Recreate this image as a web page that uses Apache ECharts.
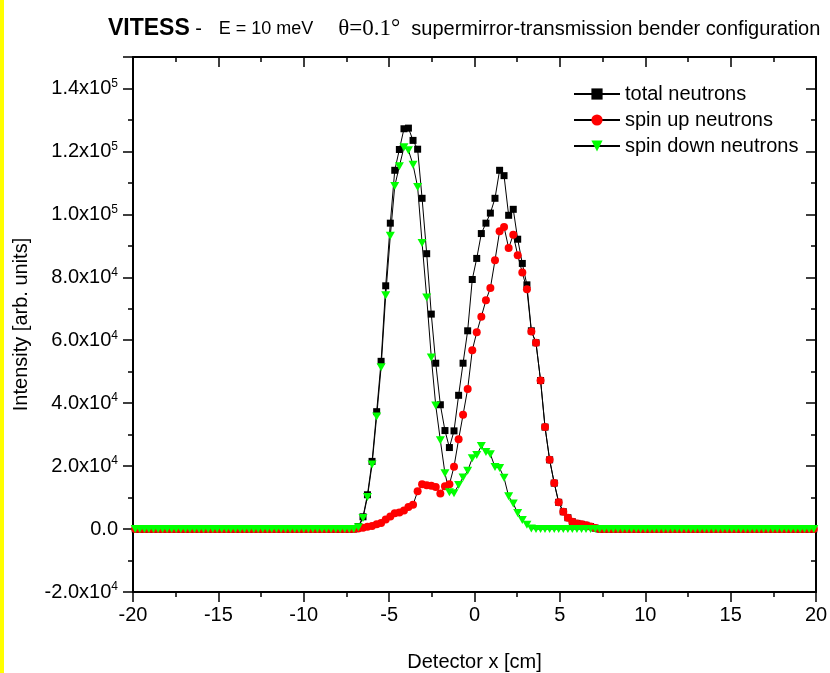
<!DOCTYPE html>
<html><head><meta charset="utf-8">
<script src="https://cdn.jsdelivr.net/npm/echarts@6/dist/echarts.min.js"></script>
<style>html,body{margin:0;padding:0;background:#fff}#c{width:830px;height:673px}</style>
</head><body><div id="c"></div><script>
// Detector positions (cm)
const detectorX = [
-19.87,-19.60,-19.33,-19.07,-18.80,-18.53,-18.27,-18.00,-17.73,-17.47,
-17.20,-16.93,-16.67,-16.40,-16.13,-15.87,-15.60,-15.33,-15.07,-14.80,
-14.53,-14.27,-14.00,-13.73,-13.47,-13.20,-12.93,-12.67,-12.40,-12.13,
-11.87,-11.60,-11.33,-11.07,-10.80,-10.53,-10.27,-10.00,-9.73,-9.47,
-9.20,-8.93,-8.67,-8.40,-8.13,-7.87,-7.60,-7.33,-7.07,-6.80,
-6.53,-6.27,-6.00,-5.73,-5.47,-5.20,-4.93,-4.67,-4.40,-4.13,
-3.87,-3.60,-3.33,-3.07,-2.80,-2.53,-2.27,-2.00,-1.73,-1.47,
-1.20,-0.93,-0.67,-0.40,-0.13,0.13,0.40,0.67,0.93,1.20,
1.47,1.73,2.00,2.27,2.53,2.80,3.07,3.33,3.60,3.87,
4.13,4.40,4.67,4.93,5.20,5.47,5.73,6.00,6.27,6.53,
6.80,7.07,7.33,7.60,7.87,8.13,8.40,8.67,8.93,9.20,
9.47,9.73,10.00,10.27,10.53,10.80,11.07,11.33,11.60,11.87,
12.13,12.40,12.67,12.93,13.20,13.47,13.73,14.00,14.27,14.53,
14.80,15.07,15.33,15.60,15.87,16.13,16.40,16.67,16.93,17.20,
17.47,17.73,18.00,18.27,18.53,18.80,19.07,19.33,19.60,19.87
];
const totalNeutrons = [
0,0,0,0,0,0,0,0,0,0,
0,0,0,0,0,0,0,0,0,0,
0,0,0,0,0,0,0,0,0,0,
0,0,0,0,0,0,0,0,0,0,
0,0,0,0,0,0,0,0,0,800,
3900,10900,21500,37300,53300,77300,97200,114000,120600,127200,
127400,123500,120700,105100,87500,68300,52700,39500,31300,25900,
31200,42500,52700,63000,79300,86000,93900,97200,100400,105100,
114000,112300,99700,101600,92100,84400,77600,63000,59200,47200,
32400,22000,14600,8500,5500,3600,2300,1800,1500,1200,
800,300,0,0,0,0,0,0,0,0,
0,0,0,0,0,0,0,0,0,0,
0,0,0,0,0,0,0,0,0,0,
0,0,0,0,0,0,0,0,0,0,
0,0,0,0,0,0,0,0,0,0
];
const spinUpNeutrons = [
0,0,0,0,0,0,0,0,0,0,
0,0,0,0,0,0,0,0,0,0,
0,0,0,0,0,0,0,0,0,0,
0,0,0,0,0,0,0,0,0,0,
0,0,0,0,0,0,0,0,0,200,
400,700,1000,1500,1900,3000,4000,5000,5300,5900,
7000,7700,12000,14200,13900,13800,13400,11300,13600,14200,
19800,28500,36300,44500,56800,62500,67500,72700,76600,85400,
94600,96000,89300,93500,87000,81500,76200,62800,59200,47200,
32400,22000,14600,8500,5500,3600,2300,1800,1500,1200,
800,300,0,0,0,0,0,0,0,0,
0,0,0,0,0,0,0,0,0,0,
0,0,0,0,0,0,0,0,0,0,
0,0,0,0,0,0,0,0,0,0,
0,0,0,0,0,0,0,0,0,0
];
const spinDownNeutrons = [
0,0,0,0,0,0,0,0,0,0,
0,0,0,0,0,0,0,0,0,0,
0,0,0,0,0,0,0,0,0,0,
0,0,0,0,0,0,0,0,0,0,
0,0,0,0,0,0,0,0,0,600,
3500,10200,20500,35800,51400,74300,93200,109000,115300,121300,
120400,115800,108700,90900,73600,54500,39300,28200,17700,11700,
11400,14000,16400,18500,22500,23500,26400,24500,23800,19700,
19400,16300,10400,8100,5100,2900,1400,200,0,0,
0,0,0,0,0,0,0,0,0,0,
0,0,0,0,0,0,0,0,0,0,
0,0,0,0,0,0,0,0,0,0,
0,0,0,0,0,0,0,0,0,0,
0,0,0,0,0,0,0,0,0,0,
0,0,0,0,0,0,0,0,0,0
];
const seriesNames = ['total neutrons', 'spin up neutrons', 'spin down neutrons'];
const xAxisName = 'Detector x [cm]';
const yAxisName = 'Intensity [arb. units]';

const FONT = '"Liberation Sans", Arial, sans-serif';
const SERIF = '"Liberation Serif", "DejaVu Serif", serif';
const pairs = (ys) => detectorX.map((x, i) => [x, ys[i]]);

function yFmt(v) {
  if (Math.abs(v) < 1e-6) return '0.0';
  if (Math.round(v) % 20000 !== 0) return '';
  const e = Math.floor(Math.log10(Math.abs(v)) + 1e-9);
  const m = v / Math.pow(10, e);
  return m.toFixed(1) + 'x10{sup|' + e + '}';
}

const chart = echarts.init(document.getElementById('c'), null, {renderer: 'canvas'});
const axisLineStyle = {color: '#000', width: 2};
const tickLine = {color: '#000', width: 1.5};

chart.setOption({
  animation: false,
  backgroundColor: '#fff',
  graphic: [{type: 'rect', left: 0, top: 0, shape: {width: 4, height: 673}, style: {fill: '#ffff00'}}],
  title: {
    left: 108, top: 14, padding: 0,
    text: '{b|VITESS}{n| -   }{e|E = 10 meV     }{s|θ=0.1°}{n|  supermirror-transmission bender configuration}',
    textStyle: {
      rich: {
        b: {fontFamily: FONT, fontWeight: 'bold', fontSize: 23, color: '#000', lineHeight: 30},
        n: {fontFamily: FONT, fontWeight: 'normal', fontSize: 20, color: '#000', lineHeight: 30},
        e: {fontFamily: FONT, fontWeight: 'normal', fontSize: 18, color: '#000', lineHeight: 30},
        s: {fontFamily: SERIF, fontWeight: 'normal', fontSize: 23, color: '#000', lineHeight: 30}
      }
    }
  },
  legend: {
    orient: 'vertical', left: 573, top: 84, padding: 0,
    itemWidth: 46, itemHeight: 14, itemGap: 6,
    textStyle: {fontFamily: FONT, fontSize: 20, lineHeight: 20, color: '#000'},
    data: seriesNames
  },
  grid: {left: 133, right: 14, top: 57, bottom: 81, containLabel: false, outerBoundsMode: 'none'},
  xAxis: [{
    type: 'value', min: -20, max: 20, interval: 5, position: 'bottom',
    name: xAxisName, nameLocation: 'middle', nameGap: 60,
    nameTextStyle: {fontFamily: FONT, fontSize: 20, color: '#000'},
    axisLine: {show: true, onZero: false, lineStyle: axisLineStyle},
    axisTick: {show: true, length: 10, lineStyle: tickLine},
    minorTick: {show: true, splitNumber: 2, length: 5, lineStyle: tickLine},
    splitLine: {show: false},
    axisLabel: {fontFamily: FONT, fontSize: 20, color: '#000', margin: 13}
  }, {
    type: 'value', min: -20, max: 20, interval: 5, position: 'top',
    axisLine: {show: true, onZero: false, lineStyle: axisLineStyle},
    axisTick: {show: true, inside: true, length: 10, lineStyle: tickLine},
    minorTick: {show: true, splitNumber: 2, length: 5, lineStyle: tickLine},
    splitLine: {show: false},
    axisLabel: {show: false}
  }],
  yAxis: [{
    type: 'value', min: -20000, max: 150000, interval: 20000, position: 'left',
    name: yAxisName, nameLocation: 'middle', nameGap: 102,
    nameTextStyle: {fontFamily: FONT, fontSize: 20, color: '#000'},
    axisLine: {show: true, onZero: false, lineStyle: axisLineStyle},
    axisTick: {show: true, length: 10, lineStyle: tickLine},
    minorTick: {show: true, splitNumber: 2, length: 5, lineStyle: tickLine},
    splitLine: {show: false},
    axisLabel: {
      fontFamily: FONT, fontSize: 20, color: '#000', margin: 15, lineHeight: 22,
      formatter: yFmt,
      rich: {sup: {fontFamily: FONT, fontSize: 12, color: '#000', verticalAlign: 'top', lineHeight: 12}}
    }
  }, {
    type: 'value', min: -20000, max: 150000, interval: 20000, position: 'right',
    axisLine: {show: true, onZero: false, lineStyle: axisLineStyle},
    axisTick: {show: true, inside: true, length: 10, lineStyle: tickLine},
    minorTick: {show: true, splitNumber: 2, length: 5, lineStyle: tickLine},
    splitLine: {show: false},
    axisLabel: {show: false}
  }],
  series: [{
    name: seriesNames[0], type: 'line', data: pairs(totalNeutrons),
    symbol: 'rect', symbolSize: 7, showSymbol: true, showAllSymbol: true,
    itemStyle: {color: '#000'}, lineStyle: {color: '#000', width: 1}
  }, {
    name: seriesNames[1], type: 'line', data: pairs(spinUpNeutrons),
    symbol: 'circle', symbolSize: 8, showSymbol: true, showAllSymbol: true,
    itemStyle: {color: '#ff0000'}, lineStyle: {color: '#000', width: 1}
  }, {
    name: seriesNames[2], type: 'line', data: pairs(spinDownNeutrons),
    symbol: 'triangle', symbolRotate: 180, symbolSize: [9, 8], showSymbol: true, showAllSymbol: true,
    itemStyle: {color: '#00ff00'}, lineStyle: {color: '#000', width: 1}
  }]
});
</script></body></html>
